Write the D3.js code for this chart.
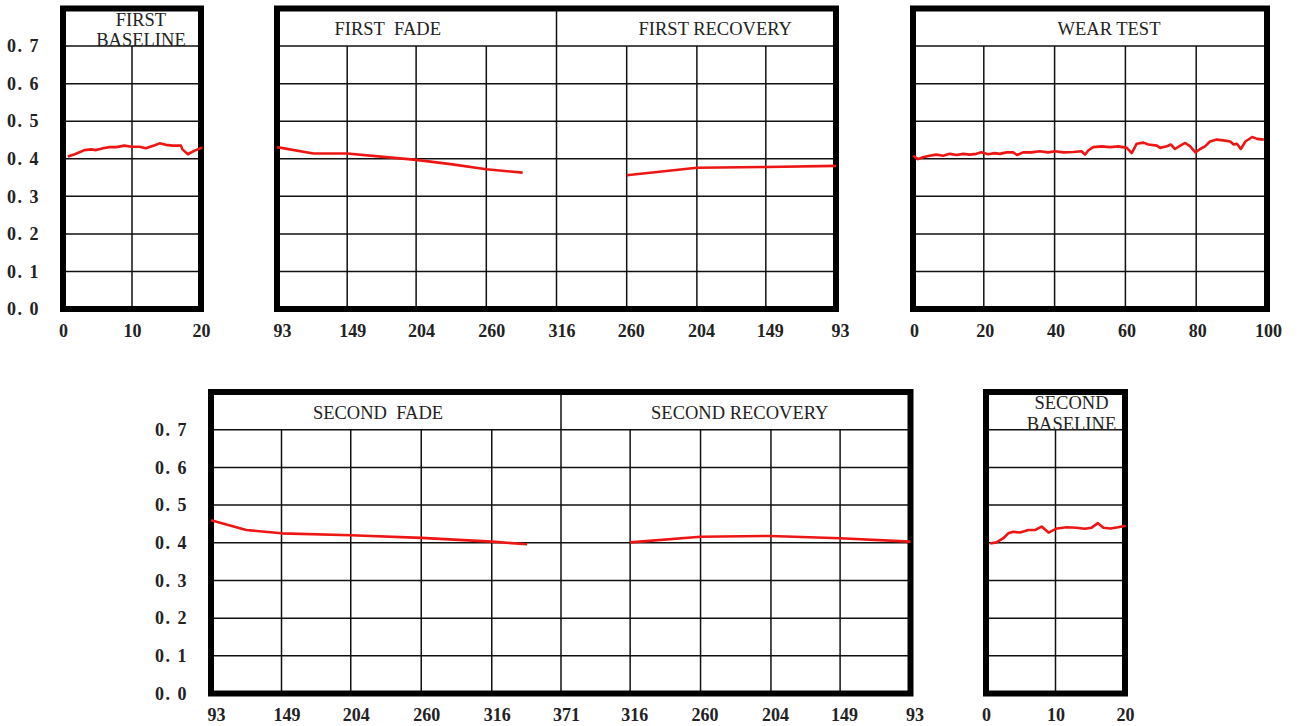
<!DOCTYPE html>
<html>
<head>
<meta charset="utf-8">
<script src="https://cdn.jsdelivr.net/npm/d3@7"></script>
<style>
    body { margin: 0; background: #fff; }
    .grid-line { stroke: #111; stroke-width: 1.5; }
    .frame { fill: none; stroke: #000; stroke-width: 6; }
    .data-line { fill: none; stroke: #ee1515; stroke-width: 2.6; stroke-linejoin: round; }
    .tick-label text { font-family: 'Liberation Serif', serif; font-weight: bold; font-size: 18px; fill: #222; }
    .panel-title { font-family: 'Liberation Serif', serif; font-size: 18.5px; fill: #222; }
</style>
</head>
<body>
<div id="chart"></div>
<script>
// values
const yTicks = [0, 0.1, 0.2, 0.3, 0.4, 0.5, 0.6, 0.7];
const baselineTicks = [0, 10, 20];
const fadeTicks1 = [93, 149, 204, 260, 316];
const recoveryTicks1 = [260, 204, 149, 93];
const wearTicks = [0, 20, 40, 60, 80, 100];
const fadeTicks2 = [93, 149, 204, 260, 316, 371];
const recoveryTicks2 = [316, 260, 204, 149, 93];

const firstBaseline = [
    [0.7, 0.406], [1.7, 0.412], [3.1, 0.423], [4.1, 0.425], [4.8, 0.423], [5.8, 0.428],
    [6.7, 0.431], [7.7, 0.431], [8.9, 0.435], [9.9, 0.432], [11.1, 0.432], [12.0, 0.428],
    [13.3, 0.436], [14.0, 0.441], [14.9, 0.437], [15.9, 0.435], [17.1, 0.435], [17.3, 0.425],
    [18.1, 0.412], [19.0, 0.421], [20.2, 0.430]
];
const firstFade = [
    [93, 0.431], [122, 0.414], [149, 0.414], [178, 0.405], [204, 0.397],
    [233, 0.385], [260, 0.372], [289, 0.363]
];
const firstRecovery = [[260, 0.356], [204, 0.376], [149, 0.378], [93, 0.381]];
const wearTest = [
    [0, 0.408], [1.4, 0.399], [2.8, 0.404], [4.7, 0.408], [6.6, 0.411], [8.5, 0.408],
    [10.4, 0.413], [12.3, 0.410], [14.2, 0.413], [16.0, 0.411], [17.9, 0.413], [19.3, 0.417],
    [21.2, 0.412], [23.1, 0.415], [24.5, 0.413], [26.4, 0.417], [28.3, 0.417], [29.4, 0.410],
    [31.1, 0.417], [33.5, 0.417], [35.8, 0.420], [38.2, 0.417], [40.1, 0.420], [42.5, 0.417],
    [45.3, 0.418], [47.6, 0.420], [48.6, 0.411], [49.5, 0.422], [50.9, 0.431], [53.3, 0.433],
    [55.7, 0.431], [58.0, 0.433], [60.4, 0.429], [61.8, 0.415], [63.2, 0.440], [65.1, 0.443],
    [66.5, 0.438], [68.9, 0.435], [69.8, 0.429], [71.7, 0.433], [72.8, 0.438], [74.0, 0.426],
    [75.5, 0.435], [76.9, 0.442], [78.3, 0.433], [79.8, 0.417], [81.1, 0.426], [82.5, 0.433],
    [83.9, 0.446], [85.8, 0.451], [87.7, 0.449], [89.6, 0.446], [90.6, 0.438], [91.5, 0.440],
    [92.6, 0.426], [93.9, 0.446], [95.8, 0.458], [97.2, 0.453], [99.1, 0.451]
];
const secondFade = [
    [93, 0.460], [121, 0.434], [149, 0.425], [204, 0.420], [260, 0.413], [316, 0.403], [344, 0.396]
];
const secondRecovery = [[316, 0.401], [260, 0.416], [204, 0.418], [149, 0.412], [93, 0.403]];
const secondBaseline = [
    [0.6, 0.398], [1.5, 0.401], [2.5, 0.412], [3.2, 0.425], [3.9, 0.429], [4.9, 0.427],
    [6.1, 0.434], [7.1, 0.434], [8.0, 0.443], [9.0, 0.427], [10.2, 0.438], [11.6, 0.441],
    [13.0, 0.440], [14.2, 0.437], [15.2, 0.440], [16.1, 0.452], [16.9, 0.440], [17.9, 0.438],
    [19.0, 0.441], [20.1, 0.445]
];

// layout
const width = 1310;
const height = 726;

const rows = {
    top: { y0: 309, yTop: 8.5 },
    bottom: { y0: 693.5, yTop: 392 }
};

const frames = [
    { row: 'top', yAxis: true, x0: 63, x1: 201, segs: [
        { range: [63, 201], domain: [0, 20], ticks: baselineTicks, title: ['FIRST', 'BASELINE'], dx: 9, labelDx: 0, data: firstBaseline }
    ] },
    { row: 'top', x0: 277, x1: 836, segs: [
        { range: [277, 556.5], domain: [93, 316], ticks: fadeTicks1, title: ['FIRST\u00a0\u00a0FADE'], dx: -29, labelDx: 5, data: firstFade },
        { range: [556.5, 836], domain: [316, 93], ticks: recoveryTicks1, title: ['FIRST RECOVERY'], dx: 19, labelDx: 4, data: firstRecovery }
    ] },
    { row: 'top', x0: 913, x1: 1267, segs: [
        { range: [913, 1267], domain: [0, 100], ticks: wearTicks, title: ['WEAR TEST'], dx: 19, labelDx: 1, data: wearTest }
    ] },
    { row: 'bottom', yAxis: true, x0: 211, x1: 910.5, segs: [
        { range: [211, 561], domain: [93, 371], ticks: fadeTicks2, title: ['SECOND\u00a0\u00a0FADE'], dx: -8, labelDx: 5, data: secondFade },
        { range: [561, 910.5], domain: [371, 93], ticks: recoveryTicks2, title: ['SECOND RECOVERY'], dx: 4, labelDx: 4, data: secondRecovery }
    ] },
    { row: 'bottom', x0: 986, x1: 1125, segs: [
        { range: [986, 1125], domain: [0, 20], ticks: baselineTicks, title: ['SECOND', 'BASELINE'], dx: 16, labelDx: 0, data: secondBaseline }
    ] }
];

const svg = d3.select('#chart')
    .append('svg')
    .attr('width', width)
    .attr('height', height);

const fmtY = d => d3.format('.1f')(d).replace('.', '. ');

frames.forEach(frame => {
    const row = rows[frame.row];
    const yScale = d3.scaleLinear()
        .domain([0, 0.8])
        .range([row.y0, row.yTop]);

    const g = svg.append('g');

    //horizontal grid lines
    g.selectAll('line.h-grid')
        .data(yTicks.slice(1))
        .enter()
        .append('line')
        .classed('grid-line', true)
        .attr('x1', frame.x0)
        .attr('x2', frame.x1)
        .attr('y1', d => yScale(d))
        .attr('y2', d => yScale(d));

    frame.segs.forEach((seg, i) => {
        const xScale = d3.scaleLinear()
            .domain(seg.domain)
            .range(seg.range);

        //vertical grid lines inside the segment
        const inner = seg.ticks.filter(t => t !== seg.domain[0] && t !== seg.domain[1]);
        g.selectAll(null)
            .data(inner)
            .enter()
            .append('line')
            .classed('grid-line', true)
            .attr('x1', d => xScale(d))
            .attr('x2', d => xScale(d))
            .attr('y1', yScale(0))
            .attr('y2', yScale(0.7));

        //divider between fade and recovery
        if (i > 0) {
            g.append('line')
                .classed('grid-line', true)
                .attr('x1', seg.range[0])
                .attr('x2', seg.range[0])
                .attr('y1', yScale(0))
                .attr('y2', yScale(0.8));
        }

        //x-axis labels
        const xAxis = d3.axisBottom(xScale)
            .tickValues(seg.ticks)
            .tickFormat(d3.format('d'))
            .tickSize(0)
            .tickPadding(15);

        g.append('g')
            .classed('tick-label', true)
            .attr('transform', 'translate(0,' + yScale(0) + ')')
            .call(xAxis)
            .call(a => a.select('.domain').remove())
            .selectAll('text')
            .attr('dx', seg.labelDx);

        //title
        const cx = (seg.range[0] + seg.range[1]) / 2 + seg.dx;
        const lines = seg.title;
        g.selectAll(null)
            .data(lines)
            .enter()
            .append('text')
            .classed('panel-title', true)
            .attr('x', cx)
            .attr('y', (d, k) => lines.length === 1 ? row.yTop + 26.5 : row.yTop + 17 + k * 20.5)
            .attr('text-anchor', 'middle')
            .text(d => d);

        seg.xScale = xScale;
    });

    //frame
    g.append('rect')
        .classed('frame', true)
        .attr('x', frame.x0)
        .attr('y', yScale(0.8))
        .attr('width', frame.x1 - frame.x0)
        .attr('height', yScale(0) - yScale(0.8));

    //y-axis labels
    if (frame.yAxis) {
        const yAxis = d3.axisLeft(yScale)
            .tickValues(yTicks)
            .tickFormat(fmtY)
            .tickSize(0)
            .tickPadding(23);

        g.append('g')
            .classed('tick-label', true)
            .attr('transform', 'translate(' + frame.x0 + ',0)')
            .call(yAxis)
            .call(a => a.select('.domain').remove())
            .selectAll('text')
            .style('letter-spacing', '1.5px');
    }

    //data lines
    frame.segs.forEach(seg => {
        const line = d3.line()
            .x(d => seg.xScale(d[0]))
            .y(d => yScale(d[1]));

        g.append('path')
            .classed('data-line', true)
            .datum(seg.data)
            .attr('d', line);
    });
});
</script>
</body>
</html>
